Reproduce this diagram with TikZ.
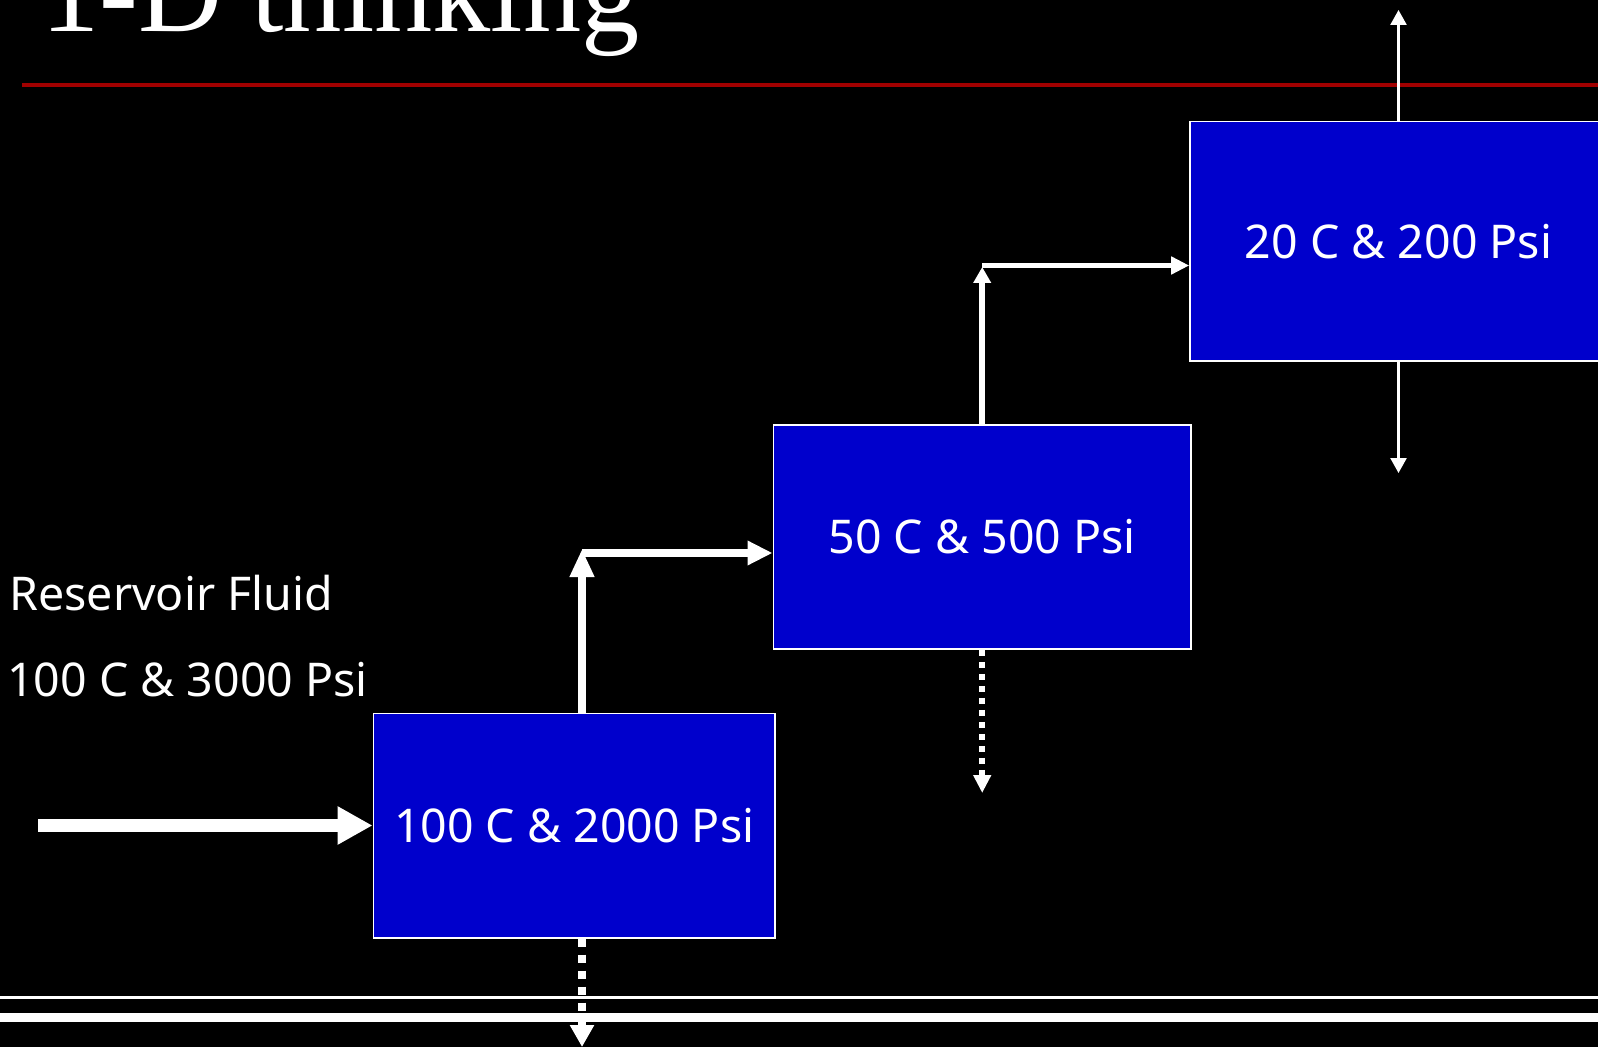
\documentclass[tikz,border=0pt]{standalone}
\usepackage{fontspec}
\setmainfont{Liberation Serif}
\newfontfamily\boxfont{Noto Sans}
\usetikzlibrary{arrows.meta}
\definecolor{boxblue}{RGB}{0,0,204}
\definecolor{rulered}{RGB}{160,0,0}
\tikzset{
  stagebox/.style={draw=white, line width=0.8pt, fill=boxblue, text=white,
    font=\boxfont\fontsize{23.25pt}{28pt}\selectfont, inner sep=0pt},
  lbl/.style={text=white, font=\boxfont\fontsize{23.25pt}{28pt}\selectfont,
    anchor=base west, inner sep=0pt},
  flow/.style={draw=white, line width=#1},
  thickflow/.style={flow=6.15pt, -{Triangle[length=17.5pt,width=18pt]}},
  riseA/.style={flow=3.85pt, -{Triangle[length=14pt,width=11.5pt]}},
  runA/.style={flow=4pt, -{Triangle[length=12.5pt,width=11.5pt]}},
  riseB/.style={flow=3pt, -{Triangle[length=8pt,width=8.5pt]}},
  runB/.style={flow=2.75pt, -{Triangle[length=9pt,width=8.5pt]}},
  thinflow/.style={flow=1.25pt, -{Triangle[length=7.5pt,width=8pt]}},
  dotA/.style={flow=4.15pt, dash pattern=on 4pt off 4pt, -{Triangle[length=11pt,width=11.5pt]}},
  dotB/.style={flow=3.15pt, dash pattern=on 3pt off 3pt, -{Triangle[length=9pt,width=8.5pt]}},
}
\begin{document}
\begin{tikzpicture}[x=0.5pt, y=-0.5pt]
  \fill[black] (0,0) rectangle (1598,1047);
  \useasboundingbox (0,0) rectangle (1598,1047);

  % title and rule
  \node[text=white, anchor=base west, inner sep=0pt,
        font=\fontsize{58.2pt}{60pt}\selectfont] (title) at (41,32) {1-D thinking};
  \draw[rulered, line width=1.8pt] (22.4,85) -- (1598,85);

  % stages
  \node[stagebox, minimum width=200.85pt, minimum height=112.2pt] (box1) at (574.2,825.5) {100 C \& 2000 Psi};
  \node[stagebox, minimum width=208.85pt, minimum height=112pt] (box2) at (982.2,537) {50 C \& 500 Psi};
  \node[stagebox, minimum width=208.5pt, minimum height=119.65pt] (box3) at (1398.5,241.3) {20 C \& 200 Psi};

  % left labels
  \node[lbl] (res) at (9,610.7) {Reservoir Fluid};
  \node[lbl] (cond) at (7,696.7) {100 C \& 3000 Psi};

  % helper coordinates
  \coordinate (in) at (38,825.5);
  \coordinate (j1) at (582,549);
  \coordinate (j1b) at (582,553);
  \coordinate (j2) at (982.2,267);
  \coordinate (j2b) at (982.2,265.5);
  \coordinate (up3) at (1398.5,10);
  \coordinate (dn3) at (1398.5,473);
  \coordinate (dn2) at (982.2,793);
  \coordinate (dn1) at (582,1047);

  % bottom rules
  \draw[white, line width=1.35pt] (0,997.3) -- (1598,997.3);
  \draw[white, line width=4.5pt] (0,1017.8) -- (1598,1017.8);

  % connectors
  \draw[thickflow] (in) -- (box1.west);
  \draw[riseA] (box1.north -| j1) -- (j1);
  \draw[runA] (j1b) -- (j1b -| box2.west);
  \draw[riseB] (box2.north) -- (j2);
  \draw[runB] (j2b) -- (j2b -| box3.west);
  \draw[thinflow] (box3.north) -- (up3);
  \draw[thinflow] (box3.south) -- (dn3);
  \draw[dotB] (box2.south) -- (dn2);
  \draw[dotA] (box1.south -| dn1) -- (dn1);
\end{tikzpicture}
\end{document}
